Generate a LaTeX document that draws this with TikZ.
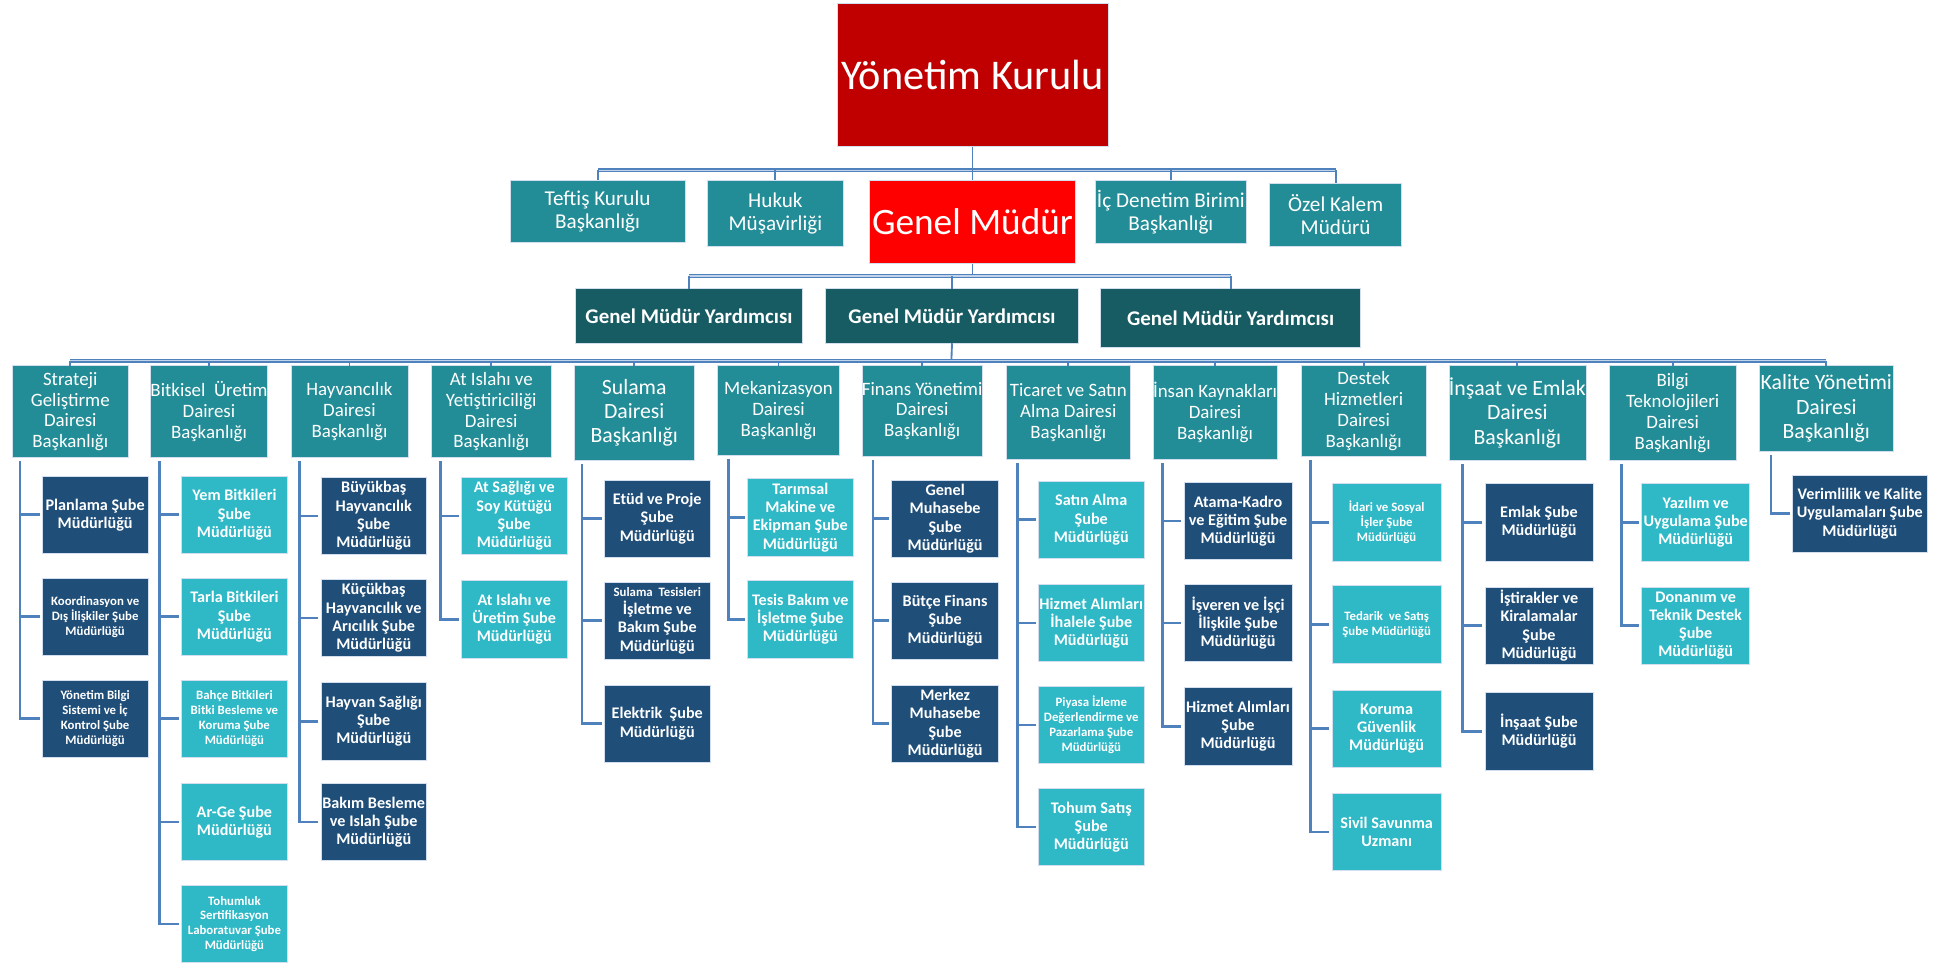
\documentclass[tikz,border=0pt]{standalone}
\usepackage{fontspec}
\setmainfont{Carlito}
\definecolor{kurul}{HTML}{C00000}
\definecolor{gmred}{HTML}{FF0000}
\definecolor{teal1}{HTML}{238D97}
\definecolor{gmyc}{HTML}{175B63}
\definecolor{navy1}{HTML}{1F4E79}
\definecolor{cyan1}{HTML}{2FB8C6}
\definecolor{hat}{HTML}{4F81BD}
\begin{document}
\begin{tikzpicture}[x=1pt,y=-1pt,
 box/.style={anchor=north west,align=center,text=white,inner xsep=0pt,inner ysep=1pt,outer sep=0pt,draw=hat!25,line width=.5pt},
 ust/.style={box,fill=teal1,font=\fontsize{17}{18.5}\selectfont},
 gmy/.style={box,fill=gmyc,font=\bfseries\fontsize{16.8}{19}\selectfont,minimum height=44pt},
 dept/.style={box,fill=teal1,font=\fontsize{15.2}{16.8}\selectfont,minimum height=74pt},
 big/.style={font=\fontsize{17.5}{19.5}\selectfont},
 sub/.style={box,minimum width=85pt,minimum height=62pt,font=\bfseries\fontsize{13}{14.7}\selectfont},
 dk/.style={sub,fill=navy1},lt/.style={sub,fill=cyan1},
 sm/.style={font=\bfseries\fontsize{10.3}{12}\selectfont},
 bus/.style={draw=hat,line width=.9pt,double=hat!35,double distance=1.3pt},
 link/.style={draw=hat,line width=1.5pt},
 spine/.style={draw=hat,line width=2.2pt,shorten <=2pt}]
\useasboundingbox (0,0) rectangle (1568,776);
\node[box,fill=kurul,minimum width=218pt,minimum height=115pt,font=\fontsize{34}{40}\selectfont] at (673,3) (yk) {Yönetim Kurulu};
\node[ust,minimum width=141pt,minimum height=50pt] at (410,145) (tkb) {Teftiş Kurulu\\Başkanlığı};
\node[ust,minimum width=109pt,minimum height=53pt] at (569,145) (hm) {Hukuk\\Müşavirliği};
\node[box,fill=gmred,minimum width=166pt,minimum height=67pt,font=\fontsize{30}{34}\selectfont] at (699,145) (gm) {Genel Müdür};
\node[ust,minimum width=121pt,minimum height=51pt] at (881,145) (idb) {İç Denetim Birimi\\Başkanlığı};
\node[ust,minimum width=106pt,minimum height=51pt] at (1021,147) (okm) {Özel Kalem\\Müdürü};
\node[gmy,minimum width=182pt] at (463,232) (gmy1) {Genel Müdür Yardımcısı};
\node[gmy,minimum width=203pt] at (664,232) (gmy2) {Genel Müdür Yardımcısı};
\node[gmy,minimum width=209pt,minimum height=47pt] at (885,232) (gmy3) {Genel Müdür Yardımcısı};
\node[dept,minimum width=93pt] at (10,294) (sgd) {Strateji\\Geliştirme\\Dairesi\\Başkanlığı};
\node[dept,minimum width=94pt] at (121,294) (bue) {Bitkisel~~Üretim\\Dairesi\\Başkanlığı};
\node[dept,minimum width=94pt] at (234,294) (hyv) {Hayvancılık\\Dairesi\\Başkanlığı};
\node[dept,minimum width=96pt] at (347,294) (ati) {At Islahı ve\\Yetiştiriciliği\\Dairesi\\Başkanlığı};
\node[dept,big,minimum width=96pt,minimum height=76pt] at (462,294) (sul) {Sulama\\Dairesi\\Başkanlığı};
\node[dept,minimum width=98pt,minimum height=72pt] at (577,294) (mek) {Mekanizasyon\\Dairesi\\Başkanlığı};
\node[dept,minimum width=97pt,minimum height=73pt] at (693,294) (fin) {Finans Yönetimi\\Dairesi\\Başkanlığı};
\node[dept,minimum width=100pt,minimum height=75pt] at (809,294) (tic) {Ticaret ve Satın\\Alma Dairesi\\Başkanlığı};
\node[dept,minimum width=100pt,minimum height=75pt] at (927,294) (ink) {İnsan Kaynakları\\Dairesi\\Başkanlığı};
\node[dept,minimum width=101pt,minimum height=73pt] at (1046,294) (dhd) {Destek\\Hizmetleri\\Dairesi\\Başkanlığı};
\node[dept,big,minimum width=110pt,minimum height=76pt] at (1165,294) (iem) {İnşaat ve Emlak\\Dairesi\\Başkanlığı};
\node[dept,minimum width=102pt,minimum height=76pt] at (1294,294) (btd) {Bilgi\\Teknolojileri\\Dairesi\\Başkanlığı};
\node[dept,big,minimum width=107pt,minimum height=69pt] at (1415,294) (kyd) {Kalite Yönetimi\\Dairesi\\Başkanlığı};
\node[dk] at (34,383) (pl) {Planlama Şube\\Müdürlüğü};
\node[dk,sm] at (34,465) (kdi) {Koordinasyon ve\\Dış İlişkiler Şube\\Müdürlüğü};
\node[dk,sm] at (34,547) (ybs) {Yönetim Bilgi\\Sistemi ve İç\\Kontrol Şube\\Müdürlüğü};
\node[lt] at (146,383) (yb) {Yem Bitkileri\\Şube\\Müdürlüğü};
\node[lt] at (146,465) (tb) {Tarla Bitkileri\\Şube\\Müdürlüğü};
\node[lt,sm] at (146,547) (bb) {Bahçe Bitkileri\\Bitki Besleme ve\\Koruma Şube\\Müdürlüğü};
\node[lt] at (146,630) (arge) {Ar-Ge Şube\\Müdürlüğü};
\node[lt,sm] at (146,712) (tsl) {Tohumluk\\Sertifikasyon\\Laboratuvar Şube\\Müdürlüğü};
\node[dk] at (258,384) (bbh) {Büyükbaş\\Hayvancılık\\Şube\\Müdürlüğü};
\node[dk] at (258,466) (kha) {Küçükbaş\\Hayvancılık ve\\Arıcılık Şube\\Müdürlüğü};
\node[dk] at (258,549) (hs) {Hayvan Sağlığı\\Şube\\Müdürlüğü};
\node[dk] at (258,630) (bbi) {Bakım Besleme\\ve Islah Şube\\Müdürlüğü};
\node[lt] at (371,384) (ass) {At Sağlığı ve\\Soy Kütüğü\\Şube\\Müdürlüğü};
\node[lt] at (371,467) (aiu) {At Islahı ve\\Üretim Şube\\Müdürlüğü};
\node[dk] at (486,386) (ep) {Etüd ve Proje\\Şube\\Müdürlüğü};
\node[dk] at (486,468) (stib) {{\fontsize{10.3}{12}\selectfont Sulama~~Tesisleri}\\İşletme ve\\Bakım Şube\\Müdürlüğü};
\node[dk] at (486,551) (el) {Elektrik~~Şube\\Müdürlüğü};
\node[lt] at (601,385) (tme) {Tarımsal\\Makine ve\\Ekipman Şube\\Müdürlüğü};
\node[lt] at (601,467) (tbi) {Tesis Bakım ve\\İşletme Şube\\Müdürlüğü};
\node[dk,minimum width=86pt] at (717,386) (gmu) {Genel\\Muhasebe\\Şube\\Müdürlüğü};
\node[dk,minimum width=86pt] at (717,468) (bf) {Bütçe Finans\\Şube\\Müdürlüğü};
\node[dk,minimum width=86pt] at (717,551) (mmu) {Merkez\\Muhasebe\\Şube\\Müdürlüğü};
\node[lt] at (835,387) (sa) {Satın Alma\\Şube\\Müdürlüğü};
\node[lt] at (835,470) (hai) {Hizmet Alımları\\İhalele Şube\\Müdürlüğü};
\node[lt,sm] at (835,552) (pid) {Piyasa İzleme\\Değerlendirme ve\\Pazarlama Şube\\Müdürlüğü};
\node[lt] at (835,634) (ts) {Tohum Satış\\Şube\\Müdürlüğü};
\node[dk,minimum width=87pt] at (952,388) (akt) {Atama-Kadro\\ve Eğitim Şube\\Müdürlüğü};
\node[dk,minimum width=87pt] at (952,470) (iii) {İşveren ve İşçi\\İlişkile Şube\\Müdürlüğü};
\node[dk,minimum width=87pt] at (952,553) (has) {Hizmet Alımları\\Şube\\Müdürlüğü};
\node[lt,sm,minimum width=88pt] at (1071,389) (isi) {İdari ve Sosyal\\İşler Şube\\Müdürlüğü};
\node[lt,sm,minimum width=88pt] at (1071,471) (tss) {Tedarik~~ve Satış\\Şube Müdürlüğü};
\node[lt,minimum width=88pt] at (1071,555) (kgm) {Koruma\\Güvenlik\\Müdürlüğü};
\node[lt,minimum width=88pt] at (1071,638) (ssu) {Sivil Savunma\\Uzmanı};
\node[dk,minimum width=87pt] at (1194,389) (es) {Emlak Şube\\Müdürlüğü};
\node[dk,minimum width=87pt] at (1194,472) (ikm) {İştirakler ve\\Kiralamalar\\Şube\\Müdürlüğü};
\node[dk,minimum width=87pt] at (1194,557) (ins) {İnşaat Şube\\Müdürlüğü};
\node[lt,minimum width=87pt] at (1320,389) (yus) {Yazılım ve\\Uygulama Şube\\Müdürlüğü};
\node[lt,minimum width=87pt] at (1320,472) (dtd) {Donanım ve\\Teknik Destek\\Şube\\Müdürlüğü};
\node[dk,minimum width=109pt] at (1441,382) (vku) {Verimlilik ve Kalite\\Uygulamaları Şube\\Müdürlüğü};
\coordinate (bus1) at (782,137);
\draw[link] (yk.south) -- (bus1);
\draw[bus] (tkb.north |- bus1) -- (okm.north |- bus1);
\foreach \n in {tkb,hm,gm,idb,okm} \draw[link] (\n.north |- bus1) -- (\n.north);
\coordinate (bus2) at (782,222);
\draw[link] (gm.south) -- (bus2);
\draw[bus] (gmy1.north |- bus2) -- (gmy3.north |- bus2);
\foreach \n in {gmy1,gmy2,gmy3} \draw[link] (\n.north |- bus2) -- (\n.north);
\coordinate (bus3) at (765,290);
\draw[link] (gmy2.south) -- (bus3);
\draw[bus] (sgd.north |- bus3) -- (kyd.north |- bus3);
\foreach \n in {sgd,bue,hyv,ati,sul,mek,fin,tic,ink,dhd,iem,btd,kyd} \draw[link] (\n.north |- bus3) -- (\n.north);
\coordinate (s1) at ([xshift=6pt,yshift=-3pt]sgd.south west);
\foreach \k in {pl,kdi,ybs} \draw[spine] (\k.west) -| (s1);
\coordinate (s2) at ([xshift=7pt,yshift=-3pt]bue.south west);
\foreach \k in {yb,tb,bb,arge,tsl} \draw[spine] (\k.west) -| (s2);
\coordinate (s3) at ([xshift=7pt,yshift=-3pt]hyv.south west);
\foreach \k in {bbh,kha,hs,bbi} \draw[spine] (\k.west) -| (s3);
\coordinate (s4) at ([xshift=7pt,yshift=-3pt]ati.south west);
\foreach \k in {ass,aiu} \draw[spine] (\k.west) -| (s4);
\coordinate (s5) at ([xshift=6pt,yshift=-3pt]sul.south west);
\foreach \k in {ep,stib,el} \draw[spine] (\k.west) -| (s5);
\coordinate (s6) at ([xshift=9pt,yshift=-3pt]mek.south west);
\foreach \k in {tme,tbi} \draw[spine] (\k.west) -| (s6);
\coordinate (s7) at ([xshift=9pt,yshift=-3pt]fin.south west);
\foreach \k in {gmu,bf,mmu} \draw[spine] (\k.west) -| (s7);
\coordinate (s8) at ([xshift=9pt,yshift=-3pt]tic.south west);
\foreach \k in {sa,hai,pid,ts} \draw[spine] (\k.west) -| (s8);
\coordinate (s9) at ([xshift=8pt,yshift=-3pt]ink.south west);
\foreach \k in {akt,iii,has} \draw[spine] (\k.west) -| (s9);
\coordinate (s10) at ([xshift=8pt,yshift=-3pt]dhd.south west);
\foreach \k in {isi,tss,kgm,ssu} \draw[spine] (\k.west) -| (s10);
\coordinate (s11) at ([xshift=11pt,yshift=-3pt]iem.south west);
\foreach \k in {es,ikm,ins} \draw[spine] (\k.west) -| (s11);
\coordinate (s12) at ([xshift=10pt,yshift=-3pt]btd.south west);
\foreach \k in {yus,dtd} \draw[spine] (\k.west) -| (s12);
\coordinate (s13) at ([xshift=9pt,yshift=-3pt]kyd.south west);
\foreach \k in {vku} \draw[spine] (\k.west) -| (s13);
\end{tikzpicture}
\end{document}
